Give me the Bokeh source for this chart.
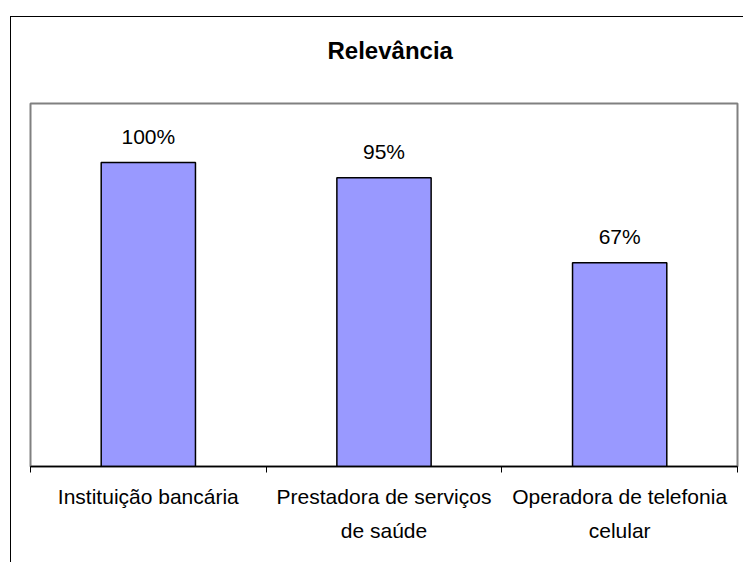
from bokeh.plotting import figure
from bokeh.models import ColumnDataSource, FixedTicker, Range1d, Title
from bokeh.core.properties import value
from bokeh.embed import file_html
from bokeh.resources import INLINE

categories = ["Instituição bancária", "Prestadora de serviços\nde saúde", "Operadora de telefonia\ncelular"]
values = [1.00, 0.95, 0.67]
value_labels = ["100%", "95%", "67%"]
chart_title = "Relevância"

FONT = "Liberation Sans"

xs = [i + 0.5 for i in range(len(categories))]
src = ColumnDataSource(dict(x=xs, top=values, label=value_labels))

p = figure(width=733, height=546, output_backend="svg", toolbar_location=None,
           title=None,
           x_range=Range1d(0, len(categories)), y_range=Range1d(0, 1.194),
           y_axis_location=None,
           min_border_left=19, min_border_right=7, min_border_top=86, min_border_bottom=97)
p.styles = {"border-left": "1px solid black", "border-top": "1px solid black",
            "margin-left": "10px", "margin-top": "16px"}

# spacer panel between the title and the plot frame
spacer = Title(text=" ", text_font_size="1px", standoff=30)
p.add_layout(spacer, "above")

title = Title(text=chart_title, align="left", vertical_align="top", offset=297,
              standoff=10, text_font=FONT, text_font_size="24px",
              text_font_style="bold", text_color="black")
p.add_layout(title, "above")

p.xgrid.visible = False
p.ygrid.visible = False
p.outline_line_color = "#808080"
p.outline_line_width = 2
p.background_fill_color = "white"
p.border_fill_color = "white"

p.vbar(x="x", top="top", width=0.4, source=src, fill_color="#9999FF",
       line_color="black", line_width=1.5)
p.text(x="x", y="top", text="label", source=src, text_align="center",
       text_baseline="middle", y_offset=-26, text_font=value(FONT),
       text_font_size="21px", text_color="black")

ax = p.xaxis[0]
ax.ticker = FixedTicker(ticks=xs, minor_ticks=list(range(len(categories) + 1)))
ax.major_label_overrides = {x: c for x, c in zip(xs, categories)}
ax.major_tick_line_color = None
ax.major_tick_in = 0
ax.major_tick_out = 0
ax.minor_tick_line_color = "black"
ax.minor_tick_line_width = 1
ax.minor_tick_in = 0
ax.minor_tick_out = 6
ax.axis_line_color = "black"
ax.axis_line_width = 1.5
ax.major_label_text_font = FONT
ax.major_label_text_font_size = "21px"
ax.major_label_text_color = "black"
ax.major_label_standoff = 12
ax.major_label_text_line_height = 1.5

open("out.html", "w").write(file_html(p, INLINE))
